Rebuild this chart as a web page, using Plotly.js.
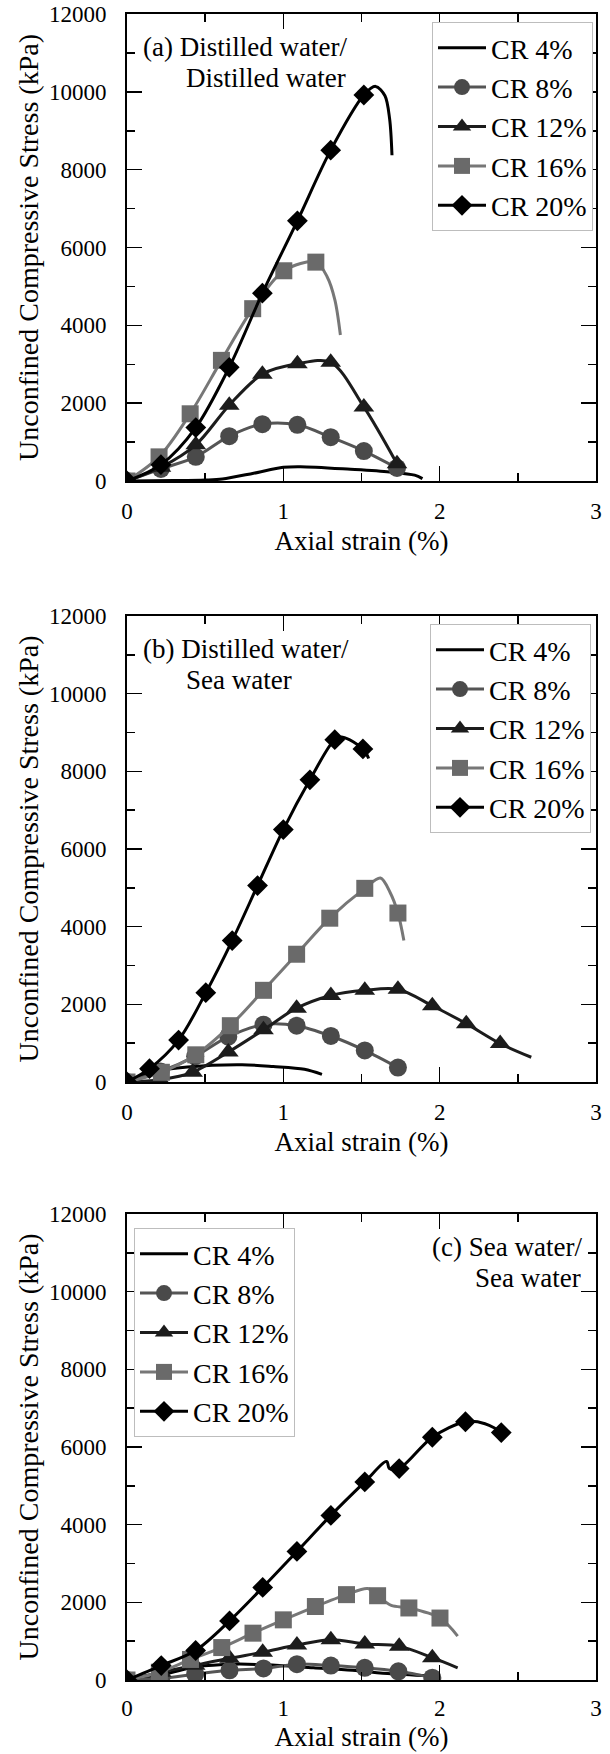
<!DOCTYPE html>
<html><head><meta charset="utf-8">
<script src="https://cdn.plot.ly/plotly-3.0.1.min.js"></script>
<style>html,body{margin:0;padding:0;background:#fff}#chart{width:610px;height:1754px}</style>
</head><body><div id="chart"></div>
<script>
// ---------- data (axial strain %, stress kPa); m = 1 where a marker is drawn ----------
const seriesNames = ['CR 4%', 'CR 8%', 'CR 12%', 'CR 16%', 'CR 20%'];
const xTickVals = [0, 1, 2, 3];
const yTickVals = [0, 2000, 4000, 6000, 8000, 10000, 12000];

// (a) Distilled water / Distilled water
const a4_x = [0, 0.3, 0.5, 0.61, 0.81, 1.0, 1.11, 1.43, 1.68, 1.84, 1.89];
const a4_y = [0, 10, 25, 50, 200, 352, 367, 300, 231, 150, 60];
const a8_x = [0, 0.217, 0.44, 0.654, 0.866, 1.09, 1.303, 1.515, 1.727];
const a8_y = [0, 310, 620, 1151, 1461, 1443, 1125, 770, 337];
const a8_m = [1, 1, 1, 1, 1, 1, 1, 1, 1];
const a12_x = [0, 0.217, 0.44, 0.654, 0.866, 1.09, 1.303, 1.515, 1.727];
const a12_y = [0, 354, 930, 1948, 2745, 3011, 3050, 1904, 443];
const a12_m = [1, 1, 1, 1, 1, 1, 1, 1, 1];
const a16_x = [0, 0.205, 0.404, 0.604, 0.804, 1.003, 1.208, 1.28, 1.33, 1.365];
const a16_y = [0, 620, 1727, 3100, 4428, 5402, 5624, 5250, 4650, 3750];
const a16_m = [1, 1, 1, 1, 1, 1, 1, 0, 0, 0];
const a20_x = [0, 0.217, 0.44, 0.654, 0.866, 1.09, 1.303, 1.515, 1.59, 1.65, 1.68, 1.695];
const a20_y = [0, 420, 1373, 2922, 4827, 6686, 8502, 9919, 10140, 9900, 9300, 8370];
const a20_m = [1, 1, 1, 1, 1, 1, 1, 1, 0, 0, 0, 0];

// (b) Distilled water / Sea water
const b4_x = [0, 0.09, 0.187, 0.387, 0.736, 0.935, 1.135, 1.247];
const b4_y = [0, 150, 283, 389, 442, 398, 327, 195];
const b8_x = [0, 0.215, 0.436, 0.648, 0.873, 1.085, 1.304, 1.521, 1.733];
const b8_y = [0, 270, 660, 1167, 1477, 1450, 1185, 814, 371];
const b8_m = [1, 1, 1, 1, 1, 1, 1, 1, 1];
const b12_x = [0, 0.21, 0.42, 0.648, 0.873, 1.085, 1.304, 1.521, 1.733, 1.953, 2.17, 2.387, 2.586];
const b12_y = [0, 60, 250, 770, 1344, 1901, 2228, 2361, 2388, 1963, 1503, 990, 637];
const b12_m = [1, 1, 1, 1, 1, 1, 1, 1, 1, 1, 1, 1, 0];
const b16_x = [0, 0.22, 0.44, 0.661, 0.873, 1.085, 1.297, 1.521, 1.621, 1.683, 1.733, 1.771];
const b16_y = [0, 250, 700, 1450, 2361, 3290, 4218, 4987, 5253, 4881, 4351, 3643];
const b16_m = [1, 1, 1, 1, 1, 1, 1, 1, 0, 0, 1, 0];
const b20_x = [0, 0.144, 0.33, 0.504, 0.673, 0.835, 1.0, 1.17, 1.329, 1.38, 1.509, 1.546];
const b20_y = [0, 344, 1080, 2299, 3643, 5058, 6500, 7782, 8816, 8880, 8578, 8330];
const b20_m = [1, 1, 1, 1, 1, 1, 1, 1, 1, 0, 1, 0];

// (c) Sea water / Sea water
const c4_x = [0, 0.244, 0.444, 0.693, 0.893, 1.192, 1.441, 1.691, 1.99];
const c4_y = [0, 158, 343, 408, 390, 315, 250, 158, 93];
const c8_x = [0, 0.219, 0.436, 0.656, 0.873, 1.087, 1.304, 1.521, 1.736, 1.953];
const c8_y = [0, 44, 150, 250, 297, 408, 371, 315, 223, 60];
const c8_m = [1, 1, 1, 1, 1, 1, 1, 1, 1, 1];
const c12_x = [0, 0.219, 0.436, 0.656, 0.868, 1.087, 1.304, 1.521, 1.741, 1.953, 2.115];
const c12_y = [0, 200, 380, 560, 714, 900, 1039, 927, 872, 575, 315];
const c12_m = [1, 1, 1, 1, 1, 1, 1, 1, 1, 1, 0];
const c16_x = [0, 0.207, 0.406, 0.606, 0.806, 1.0, 1.205, 1.404, 1.541, 1.603, 1.69, 1.803, 2.002, 2.115];
const c16_y = [0, 200, 529, 835, 1206, 1549, 1892, 2198, 2356, 2170, 1920, 1855, 1595, 1131];
const c16_m = [1, 1, 1, 1, 1, 1, 1, 1, 0, 1, 0, 1, 1, 0];
const c20_x = [0, 0.219, 0.439, 0.656, 0.868, 1.087, 1.304, 1.521, 1.661, 1.678, 1.741, 1.953, 2.165, 2.29, 2.394, 2.414];
const c20_y = [0, 371, 760, 1521, 2383, 3311, 4238, 5101, 5629, 5444, 5444, 6251, 6650, 6600, 6371, 6232];
const c20_m = [1, 1, 1, 1, 1, 1, 1, 1, 0, 0, 1, 1, 1, 0, 1, 0];

// ---------- styling ----------
const FONT = 'Liberation Serif, Times New Roman, Times, serif';
const markerColors = ['#000000', '#4a4a4a', '#1c1c1c', '#6a6a6a', '#000000'];
const lineColors = ['#000000', '#555555', '#1c1c1c', '#777777', '#000000'];
const symbols = [null, 'circle', 'triangle-up', 'square', 'diamond'];
const msizes = [0, 18, 18, 17, 16];

const panels = [
  {xa: 'x', ya: 'y', lg: 'legend', data: [[a4_x, a4_y, null], [a8_x, a8_y, a8_m], [a12_x, a12_y, a12_m], [a16_x, a16_y, a16_m], [a20_x, a20_y, a20_m]]},
  {xa: 'x2', ya: 'y2', lg: 'legend2', data: [[b4_x, b4_y, null], [b8_x, b8_y, b8_m], [b12_x, b12_y, b12_m], [b16_x, b16_y, b16_m], [b20_x, b20_y, b20_m]]},
  {xa: 'x3', ya: 'y3', lg: 'legend3', data: [[c4_x, c4_y, null], [c8_x, c8_y, c8_m], [c12_x, c12_y, c12_m], [c16_x, c16_y, c16_m], [c20_x, c20_y, c20_m]]}
];

const traces = [];
panels.forEach(p => {
  p.data.forEach((d, i) => {
    const t = {
      type: 'scatter', x: d[0], y: d[1], name: seriesNames[i],
      xaxis: p.xa, yaxis: p.ya, legend: p.lg,
      line: {color: lineColors[i], width: 3, shape: 'spline', smoothing: 0.9},
      hoverinfo: 'skip', cliponaxis: true
    };
    if (d[2]) {
      t.mode = 'lines+markers';
      t.marker = {
        color: markerColors[i], size: msizes[i],
        symbol: d[2].map(v => v ? symbols[i] : 'line-ew'),
        line: {width: 0}
      };
    } else {
      t.mode = 'lines';
    }
    traces.push(t);
  });
});

const H = 1754, W = 610;
const xDom = [127 / W, 596 / W];
const yDoms = [[481, 14], [1082, 616], [1680, 1214]].map(([b, t]) => [1 - b / H, 1 - t / H]);

function xAxis(anchor, lblOff, ttlOff) {
  return {
    domain: xDom, anchor: anchor, range: [0, 3], autorange: false,
    tickmode: 'array', tickvals: xTickVals, ticktext: xTickVals.map(String),
    ticks: 'inside', ticklen: 15, tickwidth: 1.5, tickcolor: '#000',
    minor: {ticks: 'inside', ticklen: 8, tickwidth: 1.5, tickcolor: '#000', dtick: 0.5, tick0: 0, showgrid: false},
    showline: true, linewidth: 2, linecolor: '#000', mirror: 'ticks',
    showgrid: false, zeroline: false, fixedrange: true,
    tickfont: {family: FONT, size: 23, color: '#000'},
    ticklabelstandoff: lblOff,
    title: {text: 'Axial strain (%)', font: {family: FONT, size: 27, color: '#000'}, standoff: ttlOff}
  };
}
function yAxis(anchor, dom) {
  return {
    domain: dom, anchor: anchor, range: [0, 12000], autorange: false,
    tickmode: 'array', tickvals: yTickVals, ticktext: yTickVals.map(String),
    ticks: 'inside', ticklen: 15, tickwidth: 1.5, tickcolor: '#000',
    minor: {ticks: 'inside', ticklen: 8, tickwidth: 1.5, tickcolor: '#000', dtick: 1000, tick0: 0, showgrid: false},
    showline: true, linewidth: 2, linecolor: '#000', mirror: 'ticks',
    showgrid: false, zeroline: false, fixedrange: true,
    tickfont: {family: FONT, size: 23, color: '#000'},
    ticklabelstandoff: 14,
    title: {text: 'Unconfined Compressive Stress (kPa)', font: {family: FONT, size: 28, color: '#000'}, standoff: 2}
  };
}
function legendAt(xpx, ypx) {
  return {
    x: xpx / W, y: 1 - ypx / H, xanchor: 'left', yanchor: 'top',
    bgcolor: '#ffffff', bordercolor: '#bdbdbd', borderwidth: 1,
    font: {family: FONT, size: 28, color: '#000'}, traceorder: 'normal',
    itemwidth: 48, itemclick: false, itemdoubleclick: false
  };
}

const annFont = {family: FONT, size: 27, color: '#000'};
const annotations = [
  {xref: 'x', yref: 'y', x: 0.09, y: 11150, xanchor: 'left', yanchor: 'middle', text: '(a) Distilled water/', showarrow: false, font: annFont},
  {xref: 'x', yref: 'y', x: 0.365, y: 10350, xanchor: 'left', yanchor: 'middle', text: 'Distilled water', showarrow: false, font: annFont},
  {xref: 'x2', yref: 'y2', x: 0.09, y: 11150, xanchor: 'left', yanchor: 'middle', text: '(b) Distilled water/', showarrow: false, font: annFont},
  {xref: 'x2', yref: 'y2', x: 0.365, y: 10350, xanchor: 'left', yanchor: 'middle', text: 'Sea water', showarrow: false, font: annFont},
  {xref: 'x3', yref: 'y3', x: 2.925, y: 11150, xanchor: 'right', yanchor: 'middle', text: '(c) Sea water/', showarrow: false, font: annFont},
  {xref: 'x3', yref: 'y3', x: 2.915, y: 10350, xanchor: 'right', yanchor: 'middle', text: 'Sea water', showarrow: false, font: annFont}
];

const layout = {
  width: W, height: H,
  margin: {l: 0, r: 0, t: 0, b: 0},
  paper_bgcolor: '#ffffff', plot_bgcolor: '#ffffff',
  font: {family: FONT, color: '#000'},
  xaxis: xAxis('y', 8, 9), yaxis: yAxis('x', yDoms[0]),
  xaxis2: xAxis('y2', 8, 9), yaxis2: yAxis('x2', yDoms[1]),
  xaxis3: xAxis('y3', 6, 8), yaxis3: yAxis('x3', yDoms[2]),
  legend: legendAt(432, 22),
  legend2: legendAt(430, 624),
  legend3: legendAt(134, 1228),
  annotations: annotations,
  showlegend: true
};

Plotly.newPlot('chart', traces, layout, {staticPlot: true, displayModeBar: false});
</script>
</body></html>
